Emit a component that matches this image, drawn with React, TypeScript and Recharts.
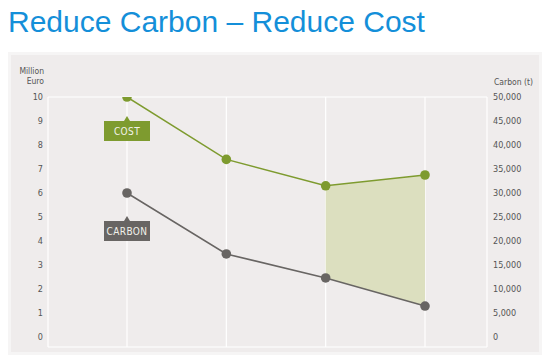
import { Line, Area, XAxis, YAxis, CartesianGrid, ComposedChart } from 'recharts';

// four project stages (no labels shown on the x axis)
const STAGES = ['A', 'B', 'C', 'D'];
const COST = [10, 7.4, 6.3, 6.75];            // million euro
const CARBON = [30000, 17300, 12300, 6450];   // tonnes
const SHADED = [false, false, true, true];    // gap filled between the two lines

const EURO_TICKS = [0, 1, 2, 3, 4, 5, 6, 7, 8, 9, 10];
const CARBON_TICKS = [0, 5000, 10000, 15000, 20000, 25000, 30000, 35000, 40000, 45000, 50000];

const TONNES_PER_EURO_UNIT = 5000; // right axis is left axis x 5000

const GREEN = '#7e9b2f';
const GREY = '#686563';
const FONT = "'Liberation Sans Narrow', 'DejaVu Sans Condensed', Roboto, sans-serif";

const data = STAGES.map((stage, i) => ({
  stage,
  cost: COST[i],
  carbon: CARBON[i],
  gap: SHADED[i] ? [CARBON[i] / TONNES_PER_EURO_UNIT, COST[i]] : null,
}));

function Tag({ x, y, index, text, fill, dy }: any) {
  if (index !== 0) return null;
  const w = 46, h = 20;
  const top = y + dy;
  return (
    <g>
      <path d={`M${x - 3},${top} L${x},${top - 5} L${x + 3},${top} Z`} fill={fill} />
      <rect x={x - w / 2} y={top} width={w} height={h} fill={fill} />
      <text x={x} y={top + h / 2 + 3.5} textAnchor="middle" fill="#f2f2ea"
        fontSize={10} fontFamily={FONT} letterSpacing={0.4}>{text}</text>
    </g>
  );
}

export default function App() {
  const tick = { fontSize: 9, fill: '#555', fontFamily: FONT };
  return (
    <div style={{ position: 'absolute', left: 0, top: 0, width: 558, height: 364, background: '#fff', overflow: 'hidden' }}>
      <div style={{
        position: 'absolute', left: 8, top: 5, fontFamily: "'Liberation Sans', Arial, sans-serif",
        fontSize: 30, color: '#148fd9', whiteSpace: 'nowrap',
      }}>Reduce Carbon – Reduce Cost</div>

      <div style={{
        position: 'absolute', left: 8, top: 52, width: 528, height: 297,
        background: '#efecec', border: '3px solid #f6f5f5',
      }} />

      <div style={{ position: 'absolute', left: 0, top: 66, width: 44, textAlign: 'right', fontFamily: FONT, fontSize: 8.5, color: '#555', lineHeight: '10px' }}>
        Million<br />Euro
      </div>
      <div style={{ position: 'absolute', left: 494, top: 77, fontFamily: FONT, fontSize: 8.5, color: '#555' }}>
        Carbon (t)
      </div>

      <div style={{ position: 'absolute', left: 0, top: 0 }}>
        <ComposedChart width={558} height={364} data={data}
          margin={{ top: 97, right: 11, bottom: 17, left: 8 }}>
          <CartesianGrid stroke="#ffffff" strokeWidth={1.2} />
          <XAxis dataKey="stage" hide padding={{ left: 79, right: 62 }} />
          <YAxis yAxisId="euro" orientation="left" width={40} domain={[-10 / 24, 10]}
            ticks={EURO_TICKS} interval={0} tickLine={false} axisLine={false}
            tickSize={0} tickMargin={5} tick={tick} allowDataOverflow />
          <YAxis yAxisId="carbon" orientation="right" width={60}
            domain={[-10 / 24 * TONNES_PER_EURO_UNIT, 50000]}
            ticks={CARBON_TICKS} interval={0} tickLine={false} axisLine={false}
            tickSize={0} tickMargin={6} tick={{ ...tick, textAnchor: 'start' }}
            tickFormatter={(v: number) => v.toLocaleString('en-US')} allowDataOverflow />
          <Area yAxisId="euro" dataKey="gap" stroke="none" fill="#dcdfbf" fillOpacity={1}
            isAnimationActive={false} dot={false} activeDot={false} />
          <Line yAxisId="euro" dataKey="cost" stroke={GREEN} strokeWidth={1.5}
            dot={{ r: 4.8, fill: GREEN, stroke: 'none' }} isAnimationActive={false}
            label={(p: any) => <Tag {...p} text="COST" fill={GREEN} dy={24} />} />
          <Line yAxisId="carbon" dataKey="carbon" stroke={GREY} strokeWidth={1.5}
            dot={{ r: 4.8, fill: GREY, stroke: 'none' }} isAnimationActive={false}
            label={(p: any) => <Tag {...p} text="CARBON" fill={GREY} dy={28} />} />
        </ComposedChart>
      </div>
    </div>
  );
}
